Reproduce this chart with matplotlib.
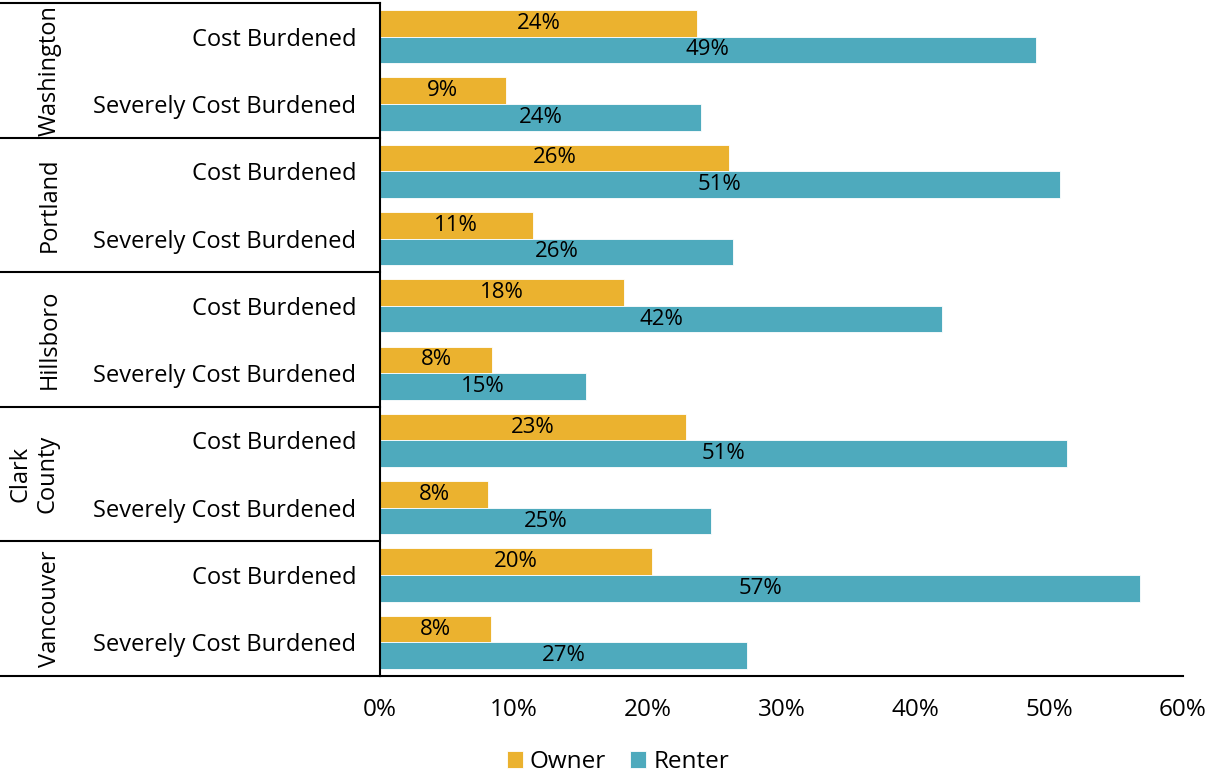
import matplotlib
matplotlib.use("Agg")
import matplotlib.pyplot as plt
from matplotlib.lines import Line2D
from matplotlib.transforms import blended_transform_factory
import numpy as np

# Housing cost burden by tenure
regions = ["Washington", "Portland", "Hillsboro", "Clark\nCounty", "Vancouver"]
burden_types = ["Cost Burdened", "Severely Cost Burdened"]
owner = [23.7, 9.4, 26.1, 11.4, 18.2, 8.4, 22.9, 8.1, 20.3, 8.3]
renter = [49.0, 24.0, 50.8, 26.4, 42.0, 15.4, 51.3, 24.7, 56.8, 27.4]
x_ticks = [0, 10, 20, 30, 40, 50, 60]

owner_color = "#EBB22F"
renter_color = "#4EAABD"

plt.rcParams["font.family"] = ["Open Sans", "DejaVu Sans"]

W, H = 1209, 777
fig = plt.figure(figsize=(W / 100, H / 100), dpi=100)
ax = fig.add_axes([380 / W, 1 - 676 / H, (1183 - 380) / W, (676 - 3) / H])

n = len(owner)
y = np.arange(n)
h = 0.395
b1 = ax.barh(y - h / 2, owner, height=h, color=owner_color, edgecolor="white", linewidth=0.6, label="Owner")
b2 = ax.barh(y + h / 2, renter, height=h, color=renter_color, edgecolor="white", linewidth=0.6, label="Renter")

for bars, vals in ((b1, owner), (b2, renter)):
    for bar, v in zip(bars, vals):
        ax.text(v / 2, bar.get_y() + bar.get_height() / 2, f"{v:.0f}%",
                ha="center", va="center", fontsize=16, color="black")

ax.set_xlim(0, 60)
ax.set_ylim(n - 0.5, -0.5)
ax.set_xticks(x_ticks)
ax.set_xticklabels([f"{t}%" for t in x_ticks], fontsize=17.5)
ax.set_yticks(y)
ax.set_yticklabels(burden_types * len(regions), fontsize=17)
ax.tick_params(axis="both", length=0)
ax.tick_params(axis="y", pad=17)
ax.tick_params(axis="x", pad=16)

for s in ("top", "right"):
    ax.spines[s].set_visible(False)
for s in ("left", "bottom"):
    ax.spines[s].set_color("black")
    ax.spines[s].set_linewidth(1.5)

# Region group labels and separators on the left
tr = blended_transform_factory(fig.transFigure, ax.transData)
for i, reg in enumerate(regions):
    yc = 2 * i + 0.5
    nlines = reg.count("\n") + 1
    ax.text((50 - 16 * (nlines - 1)) / W, yc, reg, transform=tr, rotation=90,
            ha="center", va="center", fontsize=17, linespacing=1.15)
for k in range(len(regions) + 1):
    yb = 2 * k - 0.5
    fig.add_artist(Line2D([0, 380 / W], [yb, yb], transform=tr, color="black", linewidth=1.5))

ax.legend(loc="center", bbox_to_anchor=((618 - 380) / (1183 - 380), (676 - 762) / (676 - 3)),
          ncol=2, frameon=False, fontsize=17.5, handlelength=0.65, handleheight=0.65,
          handletextpad=0.3, columnspacing=1.0)

fig.savefig("out.png", dpi=100)
